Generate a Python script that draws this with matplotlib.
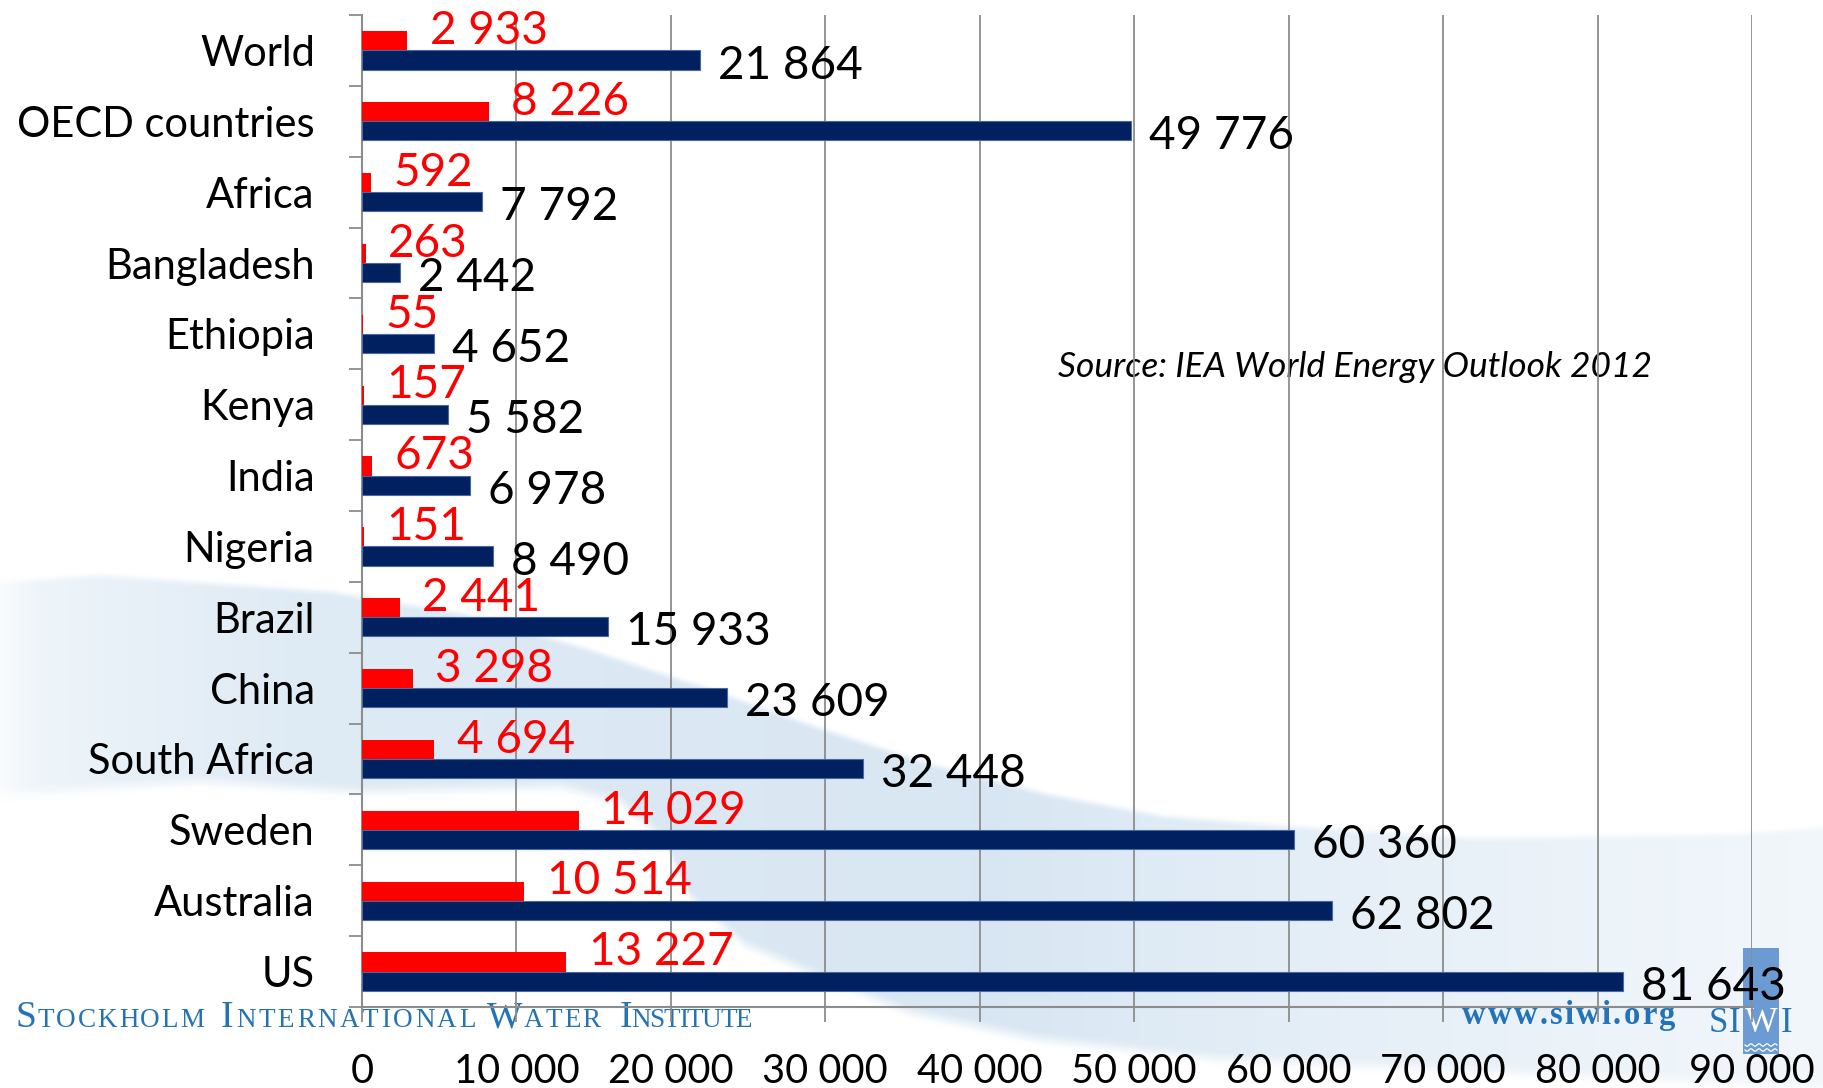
import numpy as np
import matplotlib
matplotlib.use("Agg")
import matplotlib.pyplot as plt
from matplotlib.patches import Rectangle

plt.rcParams["font.family"] = ["Lato", "DejaVu Sans"]

# ---------------------------------------------------------------- data
categories = ["World", "OECD countries", "Africa", "Bangladesh", "Ethiopia",
              "Kenya", "India", "Nigeria", "Brazil", "China", "South Africa",
              "Sweden", "Australia", "US"]
values_red = [2933, 8226, 592, 263, 55, 157, 673, 151, 2441, 3298, 4694,
              14029, 10514, 13227]
values_navy = [21864, 49776, 7792, 2442, 4652, 5582, 6978, 8490, 15933,
               23609, 32448, 60360, 62802, 81643]
x_ticks = [0, 10000, 20000, 30000, 40000, 50000, 60000, 70000, 80000, 90000]
source_note = "Source: IEA World Energy Outlook 2012"


def fmt(v):
    return f"{v:,}".replace(",", " ")


# ---------------------------------------------------------------- figure
W, H = 1823, 1088
fig = plt.figure(figsize=(W / 100, H / 100), dpi=100)
renderer = fig.canvas.get_renderer()

# background layer in pixel coordinates
bg = fig.add_axes([0, 0, 1, 1], zorder=0)
bg.set_xlim(0, W)
bg.set_ylim(H, 0)
bg.axis("off")

# soft blue swoosh behind the plot
xx = np.arange(W)[None, :].astype(float)
yy = np.arange(H)[:, None].astype(float)
ux = [0, 100, 333, 465, 581, 698, 814, 930, 1047, 1163, 1289, 1472, 1735, 1823]
uy = [577, 570, 587, 609, 642, 680, 721, 759, 789, 811, 821, 833, 829, 822]
lx = [0, 200, 360, 560, 620, 663, 690, 745, 826, 908, 1035, 1217, 1489, 1823]
ly = [803, 790, 800, 795, 810, 847, 905, 953, 987, 1020, 1047, 1067, 1080, 1095]
upper = np.interp(xx, ux, uy)
lower = np.interp(xx, lx, ly)


def smooth(t):
    t = np.clip(t, 0, 1)
    return t * t * (3 - 2 * t)


band = smooth((yy - upper) / 10.0) * smooth((lower - yy) / 18.0)
fade = np.interp(xx, [0, 40, 300, 1000, 1350, 1823], [0.15, 0.45, 0.85, 1.0, 0.65, 0.35])
alpha = band * fade
blue = np.array([0.850, 0.905, 0.953])
img = np.ones((H, W, 3)) * (1 - alpha[..., None]) + blue * alpha[..., None]
bg.imshow(img, extent=(0, W, H, 0), aspect="auto", interpolation="bilinear", zorder=0)

# SIWI logo block
bg.add_patch(Rectangle((1743, 948), 36, 106, color="#6b9bd2", zorder=1, lw=0))
wx = np.linspace(1745, 1777, 80)
for base in (1045, 1050):
    bg.plot(wx, base + 1.2 * np.sin((wx - 1745) / 8.0 * 2 * np.pi), color="white", lw=0.9, zorder=2)

logo_blue = "#2373b6"
serif = ["Liberation Serif", "DejaVu Serif"]


def spaced(chars, x0, x1, y, **kw):
    objs = [bg.text(0, y, ch, fontsize=sz, ha="left", va="baseline", zorder=3, **kw)
            for ch, sz in chars]
    widths = [o.get_window_extent(renderer).width for o in objs]
    gap = (x1 - x0 - sum(widths)) / max(len(objs) - 1, 1)
    x = x0
    for o, w in zip(objs, widths):
        o.set_x(x)
        x += w + gap


for word, x0, x1 in [("STOCKHOLM", 15, 204), ("INTERNATIONAL", 221, 476),
                     ("WATER", 487, 600), ("INSTITUTE", 620, 752)]:
    chars = [(word[0], 27)] + [(c, 19.5) for c in word[1:]]
    spaced(chars, x0, x1, 1027, color=logo_blue, family=serif)

spaced([(c, 23.5) for c in "www.siwi.org"], 1462, 1675, 1024,
       color=logo_blue, family=serif, weight="bold")

for ch, cx, col in [("S", 1718, logo_blue), ("I", 1735, logo_blue),
                    ("W", 1761, "white"), ("I", 1787, logo_blue)]:
    bg.text(cx, 1032, ch, fontsize=25, ha="center", va="baseline",
            color=col, family=serif, zorder=3)

# source note, sized to its span
src = bg.text(1058, 377, source_note, fontsize=24, style="italic",
              color="black", ha="left", va="baseline", zorder=3)
sw = src.get_window_extent(renderer).width
src.set_fontsize(24 * 594 / sw)

# ---------------------------------------------------------------- bar chart
left, right, top, bottom = 362, 1752, 15, 1007
ax = fig.add_axes([left / W, 1 - bottom / H, (right - left) / W, (bottom - top) / H], zorder=1)
ax.patch.set_alpha(0)

n = len(categories)
ypos = np.arange(n)
h = 0.27
ax.barh(ypos - h / 2, values_red, height=h, color="#ff0000", zorder=3)
ax.barh(ypos + h / 2, values_navy, height=h, color="#002060",
        edgecolor="#4a68a0", linewidth=0.8, zorder=3)

for y, v in zip(ypos, values_red):
    ax.annotate(fmt(v), xy=(v, y - h / 2), xytext=(16, 7), textcoords="offset points",
                ha="left", va="center", fontsize=33, color="#ff0000", zorder=4)
for y, v in zip(ypos, values_navy):
    ax.annotate(fmt(v), xy=(v, y + h / 2), xytext=(13, -4), textcoords="offset points",
                ha="left", va="center", fontsize=33, color="black", zorder=4)

ax.set_xlim(0, 90000)
ax.set_ylim(n - 0.5, -0.5)
ax.set_xticks(x_ticks)
ax.set_xticklabels([fmt(v) for v in x_ticks])
ax.set_yticks(ypos)
ax.set_yticklabels(categories)
ax.set_yticks(np.arange(-0.5, n, 1), minor=True)

grey = "#8c8c8c"
ax.grid(axis="x", color=grey, lw=1.3, zorder=1)
ax.set_axisbelow(True)
for side in ("top", "right"):
    ax.spines[side].set_visible(False)
for side in ("left", "bottom"):
    ax.spines[side].set_color(grey)
    ax.spines[side].set_linewidth(1.5)

ax.tick_params(axis="x", length=10.8, width=1.3, color=grey, labelsize=28.6, pad=22.5)
ax.tick_params(axis="y", which="major", length=0, labelsize=30, pad=34)
ax.tick_params(axis="y", which="minor", length=9.4, width=1.3, color=grey)

fig.savefig("out.png", dpi=100)
